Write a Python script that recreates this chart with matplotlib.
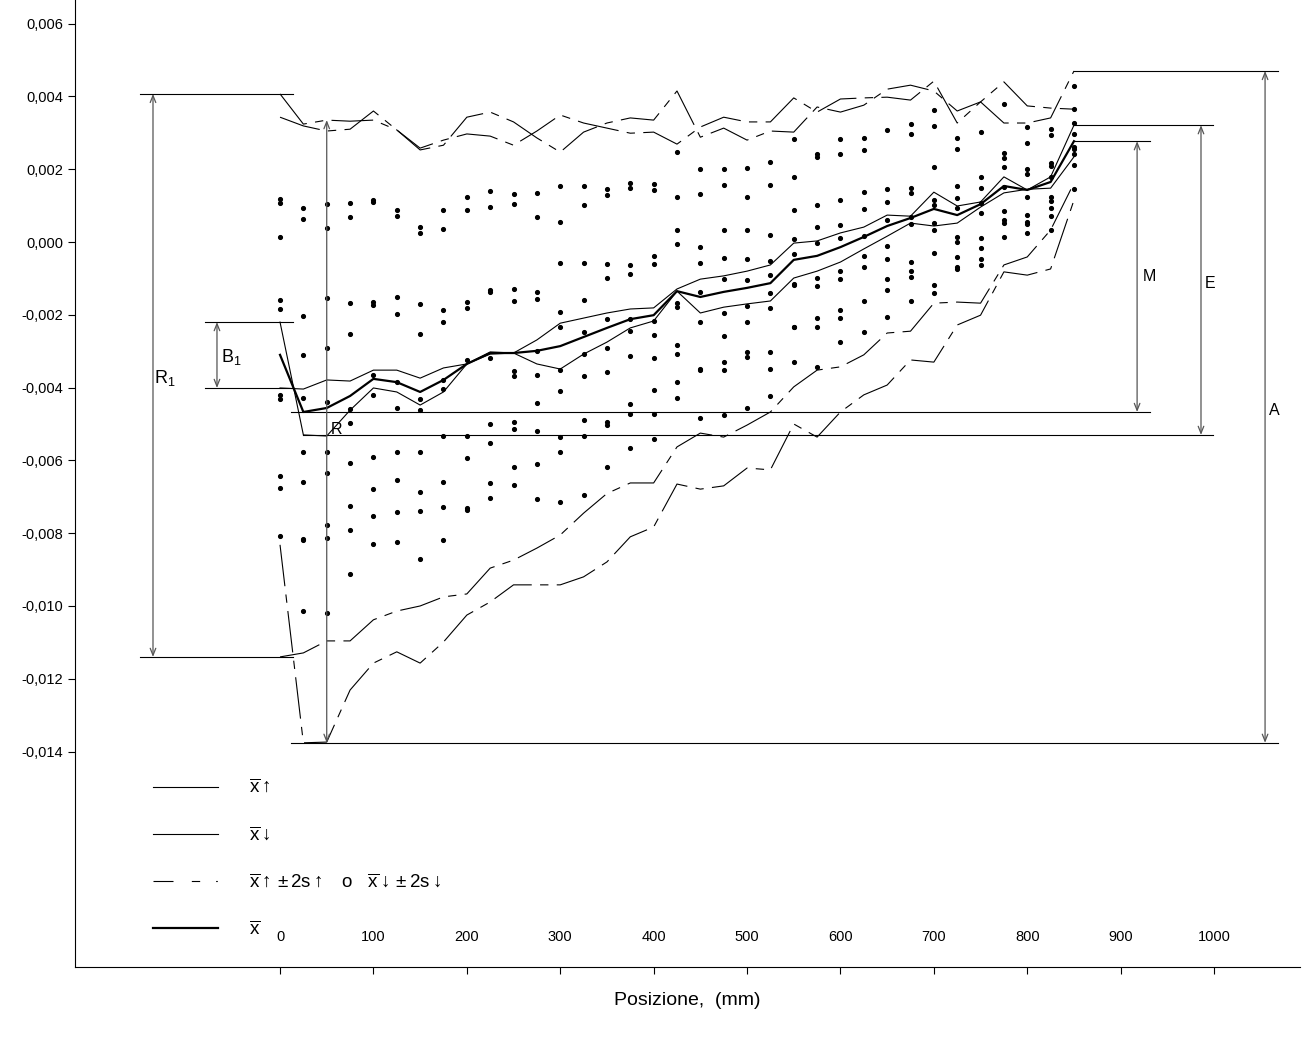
from matplotlib import pyplot as plt
from matplotlib.lines import Line2D
from matplotlib.ticker import FuncFormatter
import numpy as np

plt.rcParams['font.family'] = ['Liberation Sans', 'DejaVu Sans']
plt.rcParams['mathtext.fontset'] = 'custom'
plt.rcParams['mathtext.rm'] = 'Liberation Sans'
plt.rcParams['mathtext.it'] = 'Liberation Sans:italic'
plt.rcParams['lines.scale_dashes'] = False

# posizioni (mm)
pos = [0, 25, 50, 75, 100, 125, 150, 175, 200, 225, 250, 275, 300, 325, 350,
       375, 400, 425, 450, 475, 500, 525, 550, 575, 600, 625, 650, 675, 700,
       725, 750, 775, 800, 825, 850]

# valori in micrometri (x 0,001 mm)
x_up = [-4.01, -4.04, -3.79, -3.82, -3.52, -3.52, -3.74, -3.46, -3.35, -3.02,
        -3.05, -2.69, -2.23, -2.09, -1.95, -1.84, -1.81, -1.29, -1.02, -0.93,
        -0.80, -0.63, -0.03, 0.03, 0.25, 0.41, 0.74, 0.71, 1.37, 0.99,
        1.10, 1.79, 1.43, 1.79, 3.21]
x_down = [-2.20, -5.30, -5.33, -4.62, -4.01, -4.12, -4.48, -4.12, -3.35, -3.08,
          -3.05, -3.35, -3.49, -3.08, -2.75, -2.36, -2.17, -1.35, -1.95, -1.79,
          -1.70, -1.62, -0.99, -0.80, -0.55, -0.19, 0.16, 0.52, 0.44, 0.52,
          0.96, 1.35, 1.45, 1.48, 2.34]
x_mean = [-3.10, -4.67, -4.56, -4.23, -3.76, -3.85, -4.12, -3.79, -3.35, -3.05,
          -3.05, -2.99, -2.86, -2.61, -2.36, -2.12, -2.01, -1.35, -1.51, -1.37,
          -1.26, -1.13, -0.49, -0.38, -0.14, 0.14, 0.44, 0.66, 0.91, 0.74,
          1.04, 1.54, 1.43, 1.65, 2.77]

# x +/- 2s
up_hi = [4.07, 3.24, 3.35, 3.32, 3.35, 3.08, 2.53, 2.66, 3.43, 3.57,
         3.30, 2.86, 2.47, 3.02, 3.27, 3.41, 3.35, 4.15, 2.88, 3.13,
         2.80, 3.05, 3.02, 3.71, 3.57, 3.76, 4.20, 4.31, 4.15, 3.60,
         3.85, 4.40, 3.74, 3.68, 3.65]
down_hi = [3.43, 3.19, 3.05, 3.10, 3.60, 3.08, 2.58, 2.80, 2.97, 2.91,
           2.66, 3.05, 3.49, 3.27, 3.13, 2.99, 3.02, 2.69, 3.16, 3.43,
           3.30, 3.30, 3.96, 3.57, 3.93, 3.96, 3.98, 3.90, 4.42, 3.27,
           3.85, 3.27, 3.27, 3.41, 4.70]
down_lo = [-8.32, -13.76, -13.74, -12.31, -11.57, -11.26, -11.57, -10.99, -10.25, -9.89,
           -9.42, -9.42, -9.42, -9.20, -8.79, -8.10, -7.83, -6.65, -6.79, -6.70,
           -6.21, -6.26, -5.00, -5.36, -4.67, -4.20, -3.93, -3.24, -3.30, -2.28,
           -2.01, -0.82, -0.91, -0.74, 1.15]
up_lo = [-11.40, -11.29, -10.96, -10.96, -10.38, -10.14, -10.00, -9.75, -9.67, -8.96,
         -8.74, -8.41, -8.05, -7.45, -6.91, -6.62, -6.62, -5.63, -5.25, -5.36,
         -5.03, -4.67, -3.98, -3.52, -3.43, -3.10, -2.50, -2.45, -1.68, -1.65,
         -1.68, -0.63, -0.41, 0.33, 1.62]

# singole misure per posizione
dots = [
    [1.17, 1.08, 0.14, -1.60, -1.85, -4.20, -4.30, -6.43, -6.76, -8.09],
    [0.93, 0.63, -2.03, -3.10, -4.29, -5.76, -6.60, -8.16, -8.20, -10.14],
    [1.04, 0.38, -1.55, -2.92, -4.40, -5.76, -6.34, -7.77, -8.14, -10.19],
    [1.08, 0.70, -1.68, -2.53, -4.60, -4.96, -6.06, -7.25, -7.91, -9.12],
    [1.15, 1.11, -1.64, -1.73, -3.65, -4.20, -5.91, -6.79, -7.52, -8.30],
    [0.88, 0.72, -1.50, -1.98, -3.84, -4.57, -5.76, -6.54, -7.43, -8.23],
    [0.42, 0.26, -1.70, -2.53, -4.31, -4.62, -5.76, -6.88, -7.39, -8.72],
    [0.88, 0.36, -1.87, -2.21, -3.79, -4.03, -5.32, -6.59, -7.27, -8.19],
    [1.24, 0.89, -1.64, -1.80, -3.24, -5.32, -5.94, -7.32, -7.35],
    [1.41, 0.95, -1.32, -1.37, -3.18, -5.00, -5.53, -6.61, -7.04],
    [1.31, 1.04, -1.28, -1.61, -3.54, -3.68, -4.94, -5.15, -6.17, -6.67],
    [1.35, 0.68, -1.37, -1.56, -2.99, -3.65, -4.43, -5.19, -6.09, -7.06],
    [1.53, 0.54, -0.59, -1.93, -2.33, -3.52, -4.10, -5.35, -5.76, -7.14],
    [1.53, 1.02, -0.57, -1.60, -2.46, -3.09, -3.68, -4.89, -5.33, -6.95],
    [1.46, 1.28, -0.60, -1.00, -2.12, -2.90, -3.58, -4.94, -5.03, -6.18],
    [1.62, 1.48, -0.62, -0.89, -2.12, -2.44, -3.14, -4.46, -4.73, -5.67],
    [1.59, 1.44, -0.38, -0.60, -2.18, -2.56, -3.20, -4.07, -4.73, -5.41],
    [2.48, 1.24, 0.33, -0.05, -1.67, -1.78, -2.82, -3.07, -3.85, -4.29],
    [2.00, 1.31, -0.15, -0.57, -1.37, -2.21, -3.49, -3.52, -4.84],
    [2.00, 1.57, 0.33, -0.45, -1.01, -1.94, -2.57, -3.30, -3.52, -4.76],
    [2.04, 1.24, 0.32, -0.46, -1.04, -1.76, -2.20, -3.02, -3.16, -4.56],
    [2.19, 1.57, 0.18, -0.51, -0.90, -1.39, -1.81, -3.02, -3.48, -4.22],
    [2.84, 1.79, 0.88, 0.09, -0.32, -1.15, -1.18, -2.33, -2.34, -3.30],
    [2.42, 2.33, 1.02, 0.40, -0.03, -0.98, -1.21, -2.08, -2.34, -3.44],
    [2.83, 2.42, 1.15, 0.46, 0.12, -0.80, -1.02, -1.87, -2.08, -2.74],
    [2.85, 2.53, 1.37, 0.90, 0.16, -0.38, -0.69, -1.61, -2.48],
    [3.08, 1.46, 1.09, 0.60, -0.10, -0.46, -1.02, -1.33, -2.05],
    [3.23, 2.96, 1.49, 1.34, 0.68, 0.49, -0.55, -0.80, -0.97, -1.61],
    [3.62, 3.19, 2.06, 1.15, 1.02, 0.52, 0.32, -0.29, -1.17, -1.39],
    [2.87, 2.55, 1.55, 1.22, 0.94, 0.13, -0.01, -0.42, -0.68, -0.74],
    [3.03, 1.79, 1.48, 1.08, 0.80, 0.10, -0.16, -0.48, -0.63],
    [3.78, 2.44, 2.30, 2.07, 1.50, 0.86, 0.60, 0.51, 0.13],
    [3.16, 2.73, 2.00, 1.86, 1.24, 0.74, 0.54, 0.49, 0.26],
    [3.10, 2.94, 2.18, 2.09, 1.79, 1.24, 1.13, 0.94, 0.72, 0.33],
    [4.29, 3.65, 3.26, 2.96, 2.62, 2.55, 2.42, 2.12, 1.46],
]

k = 1e-3
pos = np.array(pos)

fig = plt.figure(figsize=(13.11, 10.43), dpi=100)
ax = fig.add_axes([75 / 1311, 76 / 1043, 1225 / 1311, 967 / 1043])

# punti
px = np.concatenate([[p] * len(d) for p, d in zip(pos, dots)])
py = np.concatenate([np.array(d) for d in dots]) * k
ax.plot(px, py, 'o', color='k', ms=2.7, ls='none')

# curve
ax.plot(pos, np.array(x_up) * k, color='k', lw=0.8)
ax.plot(pos, np.array(x_down) * k, color='k', lw=0.8)
ax.plot(pos, np.array(x_mean) * k, color='k', lw=1.6)
dash = (30, 6, 6, 6)
for env in [up_hi, down_hi, up_lo, down_lo]:
    ax.plot(pos, np.array(env) * k, color='k', lw=0.8, dashes=dash)

# quote
def hline(y, x0, x1):
    ax.plot([x0, x1], [y * k, y * k], color='k', lw=0.8)

def dim(x, y0, y1):
    ax.annotate('', xy=(x, y0 * k), xytext=(x, y1 * k),
                arrowprops=dict(arrowstyle='<->,head_length=0.5,head_width=0.2',
                                color='#555555', lw=0.9, shrinkA=0, shrinkB=0))

# R1
r1_top, r1_bot = up_hi[0], up_lo[0]
hline(r1_top, -150, 14)
hline(r1_bot, -150, 14)
dim(-136, r1_top, r1_bot)
ax.text(-123, -3.74 * k, r'$\mathrm{R}_1$', fontsize=13, ha='center', va='center')

# B1
hline(x_down[0], -80, 14)
hline(x_up[0], -80, 14)
dim(-67.5, x_down[0], x_up[0])
ax.text(-52, -3.16 * k, r'$\mathrm{B}_1$', fontsize=13, ha='center', va='center')

# M
m_top, m_bot = max(x_mean), min(x_mean)
hline(m_top, 850, 931)
hline(m_bot, 12, 931)
dim(917.6, m_top, m_bot)
ax.text(924, -0.96 * k, 'M', fontsize=11.5, ha='left', va='center')

# E
e_top, e_bot = max(x_up), x_down[1]
hline(e_top, 850, 999)
hline(e_bot, 25, 999)
dim(986, e_top, e_bot)
ax.text(990, -1.13 * k, 'E', fontsize=11.5, ha='left', va='center')

# A
a_top, a_bot = max(down_hi), min(down_lo)
hline(a_top, 850, 1068.5)
hline(a_bot, 12, 1068.5)
dim(1054.6, a_top, a_bot)
ax.text(1059, -4.62 * k, 'A', fontsize=11.5, ha='left', va='center')

# R
dim(50, up_hi[2], a_bot)
ax.text(54, -5.16 * k, 'R', fontsize=11.5, ha='left', va='center')

# assi
ax.set_xlim(-219.5, 1092)
ax.set_ylim(-19.92e-3, 6.65e-3)
ax.spines['top'].set_visible(False)
ax.spines['right'].set_visible(False)
ax.set_xticks(np.arange(0, 1001, 100))
ax.set_yticks(np.arange(-0.014, 0.0061, 0.002))
ax.yaxis.set_major_formatter(FuncFormatter(lambda v, p: ('%.3f' % v).replace('.', ',').replace('-0,000', '0,000')))
ax.tick_params(axis='y', direction='out', length=5, labelsize=10.5)
ax.tick_params(axis='x', direction='out', length=5, labelsize=10.5, pad=-31.5)
ax.set_xlabel('Posizione,  (mm)', fontsize=14, labelpad=13)

# legenda
ob = r'\overline{\mathrm{x}}'
handles = [Line2D([], [], color='k', lw=0.8),
           Line2D([], [], color='k', lw=0.8),
           Line2D([], [], color='k', lw=0.8, dashes=(14.4, 13.2, 6, 11.5, 1.2, 30)),
           Line2D([], [], color='k', lw=1.6)]
labels = ['$' + ob + r'\uparrow$',
          '$' + ob + r'\downarrow$',
          '$' + ob + r'\uparrow \pm \mathrm{2s}\uparrow\ \ \ \mathrm{o}\ \ \ ' + ob + r'\downarrow \pm \mathrm{2s}\downarrow$',
          '$' + ob + '$']
ax.legend(handles, labels, loc='upper left', bbox_to_anchor=(153 / 1311, 1 - 779 / 1043),
          bbox_transform=fig.transFigure, frameon=False, fontsize=13.5,
          handlelength=3.45, handletextpad=1.65, labelspacing=1.55,
          borderpad=0, borderaxespad=0)

plt.savefig('out.png', dpi=100)
